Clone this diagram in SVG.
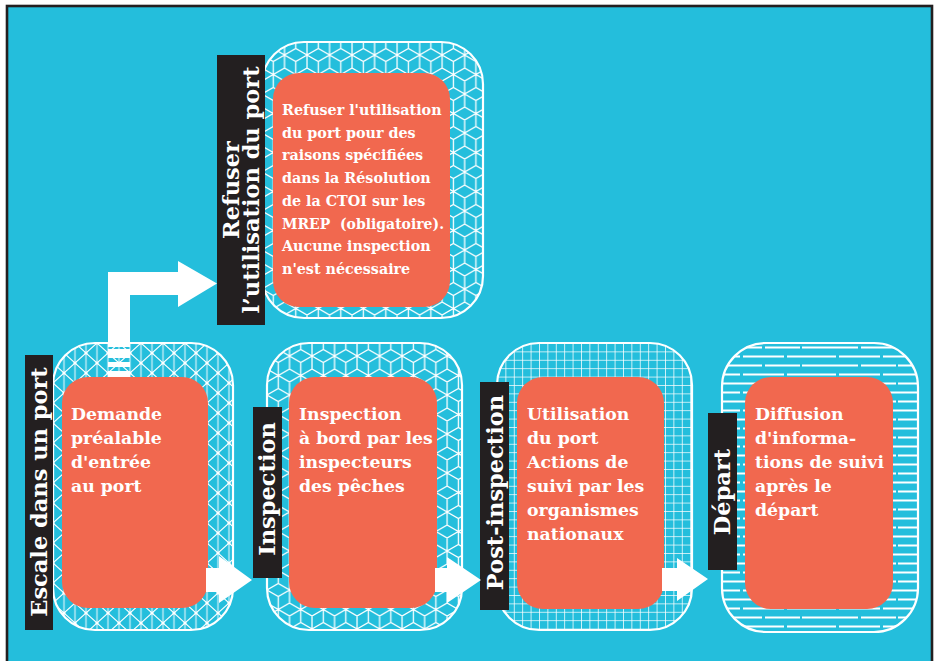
<svg xmlns="http://www.w3.org/2000/svg" width="935" height="661" viewBox="0 0 935 661">
<style>
.bg{fill:#24BEDC}
.outer{stroke:#fff;stroke-width:2.2}
.red{fill:#F1684F}
.lab{fill:#231F20}
.t{font-family:"DejaVu Serif","Liberation Serif",serif;font-weight:bold;fill:#fff}
.tb{font-size:17.3px}
.ts{font-size:14.3px}
.tv{font-size:22.5px;text-anchor:middle}
.arrow{fill:#fff}
</style>
<defs>
<pattern id="tri" patternUnits="userSpaceOnUse" x="53" y="343" width="22" height="20">
<path d="M0,0V20M11,0V20M22,0V20" stroke="#fff" stroke-opacity="0.45" stroke-width="2.2" fill="none"/>
<path d="M0,0L22,20M22,0L0,20" stroke="#fff" stroke-width="1.1" fill="none"/>
<circle cx="11" cy="10" r="1.6" fill="#fff"/>
<circle cx="0" cy="0" r="1.6" fill="#fff"/><circle cx="22" cy="0" r="1.6" fill="#fff"/>
<circle cx="0" cy="20" r="1.6" fill="#fff"/><circle cx="22" cy="20" r="1.6" fill="#fff"/>
</pattern>
<pattern id="cube" patternUnits="userSpaceOnUse" x="262" y="42" width="22.517" height="39">
<path d="M11.258,0V6.5M0,13L11.258,6.5L22.517,13M0,0V26M22.517,0V26M0,13L11.258,19.5L22.517,13M11.258,19.5V32.5M0,26L11.258,32.5L22.517,26M11.258,32.5V39M0,39L11.258,32.5L22.517,39" stroke="#fff" stroke-width="1.3" fill="none"/>
</pattern>
<pattern id="cube2" patternUnits="userSpaceOnUse" x="267" y="343" width="22.517" height="39">
<path d="M11.258,0V6.5M0,13L11.258,6.5L22.517,13M0,0V26M22.517,0V26M0,13L11.258,19.5L22.517,13M11.258,19.5V32.5M0,26L11.258,32.5L22.517,26M11.258,32.5V39M0,39L11.258,32.5L22.517,39" stroke="#fff" stroke-width="1.3" fill="none"/>
</pattern>
<pattern id="grid" patternUnits="userSpaceOnUse" x="497" y="343" width="8.4" height="8.4">
<path d="M0,0H8.4M0,0V8.4" stroke="#fff" stroke-width="1.5" fill="none"/>
</pattern>
<pattern id="lines" patternUnits="userSpaceOnUse" x="722" y="343" width="96" height="18">
<path d="M0,4.5H40M43,4.5H78M80,4.5H96" stroke="#fff" stroke-width="1.9" fill="none"/>
<path d="M0,13.5H18M21,13.5H62M65,13.5H96" stroke="#fff" stroke-width="1.9" fill="none"/>
</pattern>
</defs>
<rect width="935" height="661" fill="#fff"/>
<rect class="bg" x="7" y="6" width="925" height="662" stroke="#231F20" stroke-width="2.6"/>

<g id="node-refuser">
<rect class="outer" x="262" y="42" width="221" height="276" rx="42" fill="url(#cube)"/>
<rect class="red" x="273" y="73" width="177" height="234" rx="26"/>
<text class="t ts"><tspan x="282" y="115">Refuser l'utilisation</tspan><tspan x="282" y="137.7">du port pour des</tspan><tspan x="282" y="160.4">raisons spécifiées</tspan><tspan x="282" y="183.1">dans la Résolution</tspan><tspan x="282" y="205.8">de la CTOI sur les</tspan><tspan x="282" y="228.5" textLength="162" lengthAdjust="spacingAndGlyphs">MREP&#160; (obligatoire).</tspan><tspan x="282" y="251.2">Aucune inspection</tspan><tspan x="282" y="273.9">n'est nécessaire</tspan></text>
<rect class="lab" x="217" y="55" width="48" height="270"/>
<text class="t tv" transform="translate(238.5,190) rotate(-90)">Refuser</text>
<text class="t tv" transform="translate(259,190) rotate(-90)">l’utilisation du port</text>
</g>

<g id="node-escale">
<rect class="outer" x="53" y="343" width="180" height="287" rx="42" fill="url(#tri)"/>
<rect class="red" x="62" y="377" width="146" height="231" rx="26"/>
<text class="t tb"><tspan x="71" y="420">Demande</tspan><tspan x="71" y="444">préalable</tspan><tspan x="71" y="468">d'entrée</tspan><tspan x="71" y="492">au port</tspan></text>
<rect class="lab" x="25" y="355" width="28" height="275"/>
<text class="t tv" transform="translate(46.5,492) rotate(-90)">Escale dans un port</text>
</g>

<g id="node-inspection">
<rect class="outer" x="267" y="343" width="195" height="287" rx="42" fill="url(#cube2)"/>
<rect class="red" x="289" y="377" width="148" height="231" rx="26"/>
<text class="t tb"><tspan x="299" y="420">Inspection</tspan><tspan x="299" y="444">à bord par les</tspan><tspan x="299" y="468">inspecteurs</tspan><tspan x="299" y="492">des pêches</tspan></text>
<rect class="lab" x="253" y="407" width="29" height="171"/>
<text class="t tv" transform="translate(274.5,489) rotate(-90)">Inspection</text>
</g>

<g id="node-post">
<rect class="outer" x="497" y="343" width="195" height="287" rx="42" fill="url(#grid)"/>
<rect class="red" x="517" y="377" width="147" height="232" rx="26"/>
<text class="t tb"><tspan x="527" y="420">Utilisation</tspan><tspan x="527" y="444">du port</tspan><tspan x="527" y="468">Actions de</tspan><tspan x="527" y="492">suivi par les</tspan><tspan x="527" y="516">organismes</tspan><tspan x="527" y="540">nationaux</tspan></text>
<rect class="lab" x="480" y="382" width="29" height="228"/>
<text class="t tv" transform="translate(503,492.5) rotate(-90)">Post-inspection</text>
</g>

<g id="node-depart">
<rect class="outer" x="722" y="343" width="196" height="289" rx="44" fill="url(#lines)"/>
<rect class="red" x="745" y="377" width="148" height="232" rx="26"/>
<text class="t tb"><tspan x="755" y="420">Diffusion</tspan><tspan x="755" y="444">d'informa-</tspan><tspan x="755" y="468">tions de suivi</tspan><tspan x="755" y="492">après le</tspan><tspan x="755" y="516">départ</tspan></text>
<rect class="lab" x="708" y="413" width="29" height="157"/>
<text class="t tv" transform="translate(729.5,492) rotate(-90)">Départ</text>
</g>

<g id="connectors">
<path class="arrow" d="M108,347V272H178V261L217,283.5L178,307V295H130V347Z"/>
<rect class="arrow" x="108" y="349" width="22" height="9"/>
<rect class="arrow" x="108" y="362" width="22" height="5"/>
<rect class="arrow" x="108" y="371" width="22" height="6"/>
<path class="arrow" d="M206,568H219V556L252,580L219,603V592H206Z"/>
<path class="arrow" d="M435,568H447V557L481,580L447,603V592H435Z"/>
<path class="arrow" d="M662,568H677V558L708,579L677,601V591H662Z"/>
</g>
</svg>
